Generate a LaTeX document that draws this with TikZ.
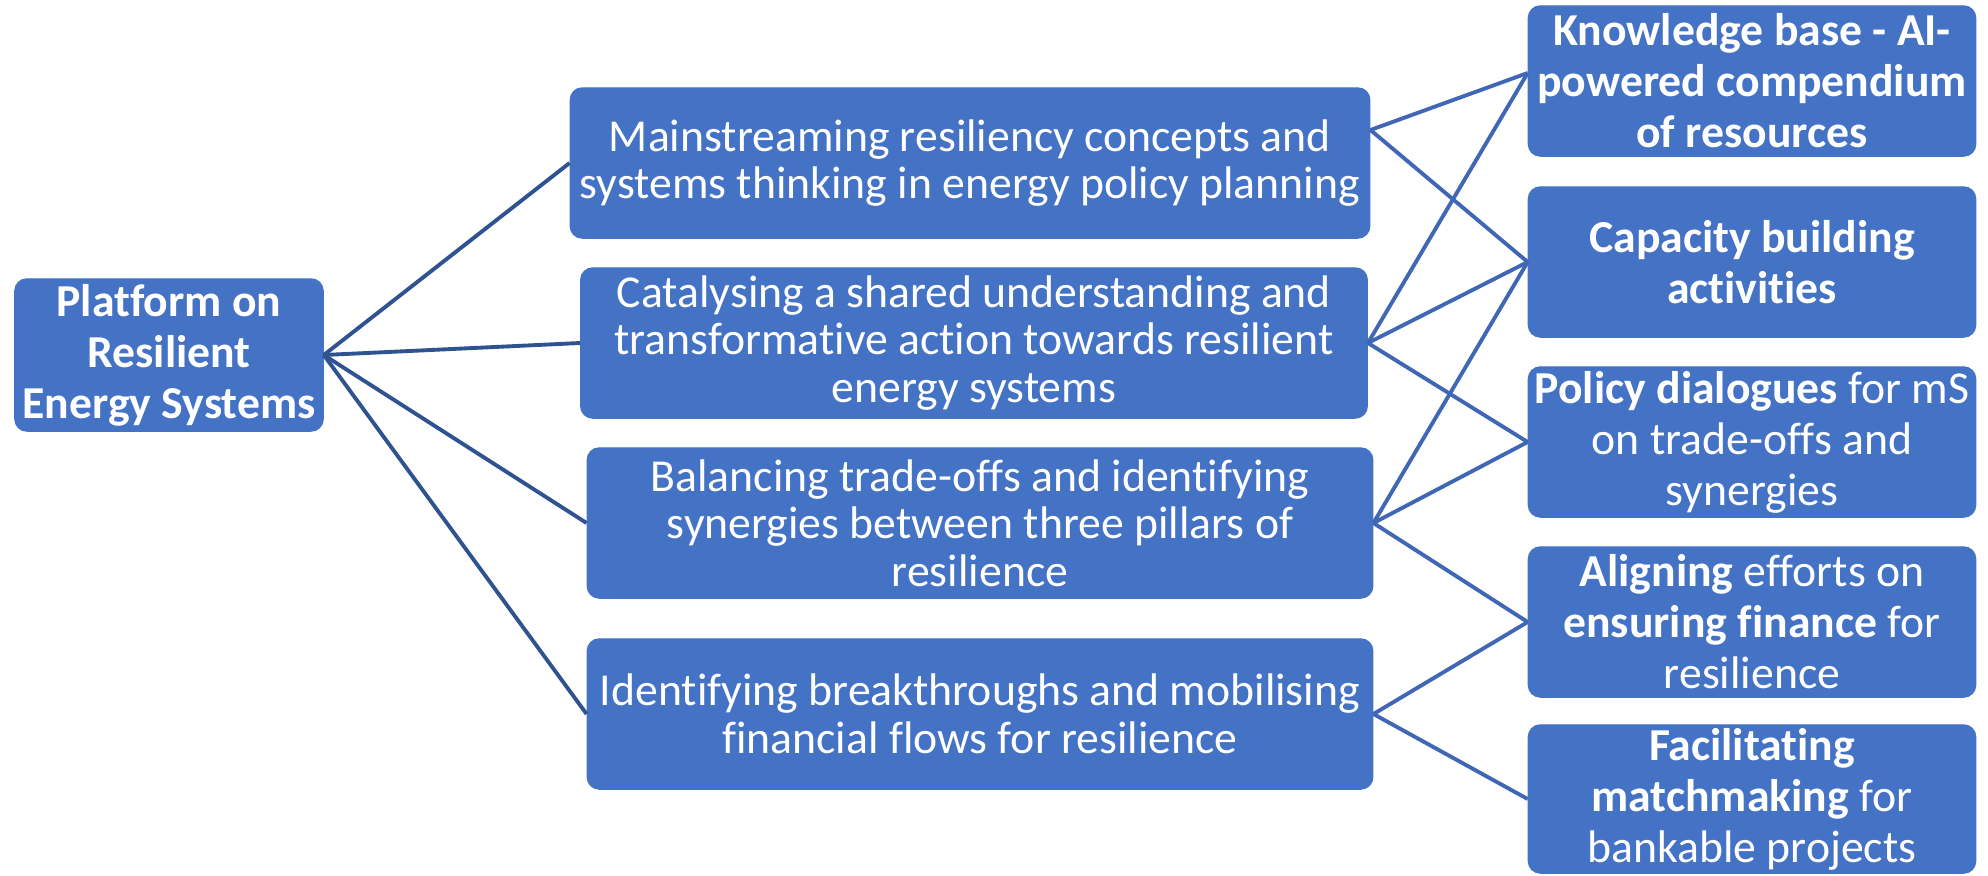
\documentclass[tikz,border=0pt]{standalone}
\usepackage{fontspec}
\setmainfont{Carlito}[Ligatures={NoCommon,NoContextual}]
\definecolor{boxblue}{HTML}{4472C4}
\definecolor{lineblue}{HTML}{3F67B5}
\definecolor{rootblue}{HTML}{2F5290}
\usetikzlibrary{positioning, calc}
\tikzset{
	defaultbox/.style={
			rectangle,
			rounded corners=1.2mm,
			draw=boxblue,
			fill=boxblue,
			text=white,
			align=center,
			inner sep=0pt,
			font=\fontsize{13pt}{13.5pt}\selectfont
		},
	rootbox/.style={
			defaultbox,
			minimum width=3.08cm,
			minimum height=1.52cm,
			font=\fontsize{13pt}{14.5pt}\selectfont\bfseries
		},
	goalbox/.style={
			defaultbox,
			minimum width=7.85cm,
			minimum height=1.5cm
		},
	actbox/.style={
			defaultbox,
			minimum width=4.47cm,
			minimum height=1.5cm,
			font=\fontsize{13pt}{14.5pt}\selectfont
		},
	rootlink/.style={
			draw=rootblue,
			line width=1.1pt
		},
	actlink/.style={
			draw=lineblue,
			line width=1.1pt
		}
}

\begin{document}
\begin{tikzpicture}[x=0.01cm, y=-0.01cm]
\useasboundingbox (0,0) rectangle (1988,875);

\node[rootbox] (pRoot) at (169,355) {Platform on\\Resilient\\Energy Systems};

\node[goalbox, minimum width=7.99cm] (pMain) at (970,163) {Mainstreaming resiliency concepts and\\systems thinking in energy policy planning};
\node[goalbox, minimum width=7.86cm] (pShare) at (974,343) {Catalysing a shared understanding and\\transformative action towards resilient\\energy systems};
\node[goalbox] (pBal) at (980,523) {Balancing trade-offs and identifying\\synergies between three pillars of\\resilience};
\node[goalbox] (pFin) at (980,714) {Identifying breakthroughs and mobilising\\financial flows for resilience};

\node[actbox] (sKnow) at (1752,81) {\bfseries Knowledge base - AI-\\\bfseries powered compendium\\\bfseries of resources};
\node[actbox] (sCap) at (1752,262) {\bfseries Capacity building\\\bfseries activities};
\node[actbox] (sPol) at (1752,442) {\textbf{Policy dialogues} for mS\\on trade-offs and\\synergies};
\node[actbox] (sAlign) at (1752,622) {\textbf{Aligning} efforts on\\\textbf{ensuring finance} for\\resilience};
\node[actbox, minimum height=1.48cm] (sMatch) at (1752,799) {\textbf{Facilitating}\\\textbf{matchmaking} for\\bankable projects};

% platform to the four goals
\draw[rootlink] (pRoot.east) edge (pMain.west) edge (pShare.west) edge (pBal.west) edge (pFin.west);

% goals to activities
\draw[actlink] ([yshift=3.3mm]pMain.east) edge ([yshift=0.8mm]sKnow.west) edge (sCap.west);
\draw[actlink] (pShare.east) edge ([yshift=0.8mm]sKnow.west) edge (sCap.west) edge (sPol.west);
\draw[actlink] (pBal.east) edge (sCap.west) edge (sPol.west) edge (sAlign.west);
\draw[actlink] (pFin.east) edge (sAlign.west) edge (sMatch.west);

\end{tikzpicture}
\end{document}
